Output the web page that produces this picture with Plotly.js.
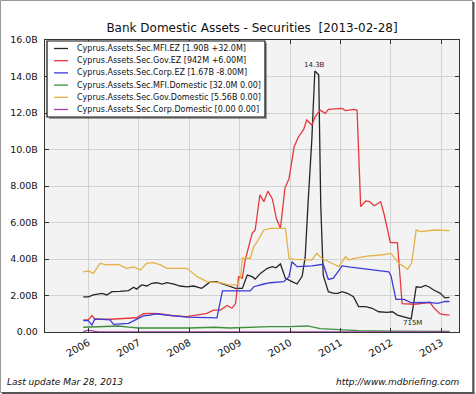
<!DOCTYPE html>
<html>
<head>
<meta charset="utf-8">
<script src="https://cdn.plot.ly/plotly-3.0.1.min.js"></script>
<style>html,body{margin:0;padding:0;background:#fff;}#chart{width:476px;height:394px;}</style>
</head>
<body>
<div id="chart"></div>
<script>
// ---------------- DATA ----------------
const seriesNames = [
  "Cyprus.Assets.Sec.MFI.EZ [1.90B +32.0M]",
  "Cyprus.Assets.Sec.Gov.EZ [942M +6.00M]",
  "Cyprus.Assets.Sec.Corp.EZ [1.67B -8.00M]",
  "Cyprus.Assets.Sec.MFI.Domestic [32.0M 0.00]",
  "Cyprus.Assets.Sec.Gov.Domestic [5.56B 0.00]",
  "Cyprus.Assets.Sec.Corp.Domestic [0.00 0.00]"
];

// values in billions
const mfiEzDates = ['2005-11-25','2006-01-01','2006-02-06','2006-04-09','2006-05-15','2006-06-21','2006-08-18','2006-10-19','2006-11-25','2006-12-16',
  '2007-01-22','2007-02-28','2007-04-05','2007-05-12','2007-06-18','2007-07-24','2007-09-13','2007-10-27','2007-12-16',
  '2008-02-02','2008-04-01','2008-06-03','2008-07-20','2008-08-15','2008-10-12','2008-12-02',
  '2009-01-20','2009-02-25','2009-04-01','2009-04-23','2009-05-31','2009-07-20','2009-08-26','2009-09-20','2009-10-23','2009-11-28',
  '2010-01-15','2010-02-20','2010-03-29','2010-04-20','2010-05-12','2010-06-07','2010-06-29','2010-07-16','2010-07-27','2010-08-11','2010-08-29','2010-10-05','2010-11-14','2010-12-13',
  '2011-01-12','2011-02-20','2011-04-05','2011-05-12','2011-07-02','2011-08-18','2011-10-05','2011-12-05',
  '2012-01-12','2012-02-17','2012-04-05','2012-05-27','2012-07-02','2012-08-04','2012-09-06','2012-10-01','2012-11-06','2012-12-24',
  '2013-01-26','2013-02-28'];
const mfiEzValues = [1.93,1.93,2.03,2.12,2.03,2.21,2.23,2.27,2.45,2.35,
  2.58,2.52,2.67,2.70,2.62,2.70,2.62,2.52,2.47,
  2.52,2.39,2.76,2.76,2.67,2.52,2.39,
  2.39,3.12,3.03,2.90,3.21,3.49,3.58,3.52,3.73,2.94,
  2.76,2.63,3.05,4.10,7.20,10.5,14.3,14.2,14.1,6.90,3.10,2.21,2.12,2.12,
  2.21,2.12,1.93,1.39,1.39,1.30,1.11,1.07,
  1.11,0.93,0.84,0.715,2.48,2.45,2.55,2.48,2.30,2.12,
  1.87,1.90];

const govEzDates = ['2005-11-25','2006-01-01','2006-01-27','2006-02-17','2006-06-07','2006-12-16',
  '2007-02-03','2007-03-26','2007-05-27','2007-09-09','2007-12-16',
  '2008-02-02','2008-03-22','2008-05-08','2008-06-25','2008-08-15','2008-10-01','2008-11-06','2008-12-02','2008-12-13','2008-12-24',
  '2009-01-20','2009-02-10','2009-03-07','2009-04-01','2009-04-23','2009-05-27','2009-06-25','2009-07-24','2009-08-26','2009-09-24','2009-10-23','2009-11-25','2009-12-24',
  '2010-01-30','2010-03-03','2010-04-09','2010-05-01','2010-06-07','2010-07-02','2010-08-07','2010-09-13','2010-10-05',
  '2011-01-12','2011-02-06','2011-04-09','2011-05-01','2011-05-27','2011-07-02','2011-07-31','2011-09-02','2011-10-19','2011-11-14','2011-12-28',
  '2012-02-17','2012-03-22','2012-06-18','2012-08-18','2012-10-09','2012-11-10','2012-12-20',
  '2013-01-26','2013-02-28'];
const govEzValues = [0.66,0.66,0.90,0.70,0.70,0.78,
  1.00,1.02,1.00,0.89,0.84,
  0.90,0.93,1.02,1.20,1.20,1.45,1.30,1.57,2.48,3.03,
  2.95,3.95,4.68,5.41,5.59,7.51,7.14,7.72,7.28,6.20,5.68,7.90,8.40,
  10.15,10.7,11.1,11.62,11.34,11.8,12.16,11.98,12.2,
  12.25,12.13,12.2,12.15,6.87,7.18,7.14,6.92,7.14,6.41,4.90,
  4.90,1.55,1.52,1.57,1.63,1.30,1.00,
  0.936,0.942];

const corpEzDates = ['2005-11-25','2006-01-01','2006-01-27','2006-02-17','2006-06-07','2006-07-02','2006-10-19','2006-12-16',
  '2007-02-03','2007-03-26','2007-05-01','2007-07-24','2007-12-16',
  '2008-07-20','2008-08-29',
  '2009-03-18','2009-04-13','2009-06-25','2009-08-11','2009-11-17','2009-12-24',
  '2010-01-15','2010-02-20','2010-06-07','2010-08-29','2010-10-05','2010-11-10','2010-12-05',
  '2011-01-12','2011-03-15','2011-05-27','2011-07-13','2011-10-05','2011-12-16',
  '2012-01-01','2012-02-06','2012-04-05','2012-05-27','2012-10-01','2012-12-05',
  '2013-01-26','2013-02-28'];
const corpEzValues = [0.62,0.62,0.38,0.72,0.66,0.42,0.47,0.68,
  0.88,0.93,1.00,0.92,0.82,
  0.77,2.25,
  2.25,2.48,2.63,2.70,2.76,3.03,
  3.85,3.58,3.62,3.71,2.88,2.95,3.21,
  3.62,3.55,3.49,3.43,3.35,3.30,
  3.10,1.79,1.79,1.61,1.62,1.57,
  1.68,1.67];

const mfiDomDates = ['2005-11-25','2006-05-27','2006-08-07','2006-10-19','2007-01-01','2008-01-01','2008-07-02','2008-10-19',
  '2009-03-15','2009-08-07','2010-01-01','2010-03-15','2010-05-08','2010-08-07','2011-01-01','2011-05-12','2012-01-01','2013-02-28'];
const mfiDomValues = [0.26,0.29,0.33,0.27,0.22,0.22,0.26,0.22,
  0.27,0.29,0.29,0.33,0.33,0.18,0.11,0.07,0.05,0.032];

const govDomDates = ['2005-11-25','2006-01-01','2006-02-06','2006-03-26','2006-05-15','2006-08-07','2006-10-05','2006-11-25',
  '2007-01-12','2007-02-28','2007-04-16','2007-06-07','2007-07-24','2007-12-16',
  '2008-02-28','2008-05-08','2008-08-15','2008-10-12','2008-12-13',
  '2009-01-08','2009-01-20','2009-03-18','2009-04-13','2009-05-08','2009-06-25','2009-08-11','2009-11-28','2009-12-24',
  '2010-01-30','2010-06-07','2010-07-13','2010-08-18','2010-11-25','2010-12-20',
  '2011-02-06','2011-03-03','2011-04-09','2011-07-13','2011-10-19',
  '2012-01-01','2012-02-28','2012-05-01','2012-05-31','2012-07-02','2012-08-04','2012-11-10',
  '2013-02-28'];
const govDomValues = [3.30,3.35,3.21,3.76,3.68,3.70,3.49,3.56,
  3.40,3.76,3.80,3.68,3.49,3.49,
  3.03,2.76,2.70,2.58,2.58,
  3.03,4.04,4.04,4.68,4.95,5.59,5.68,5.68,4.04,
  3.98,3.95,4.31,4.04,3.67,3.58,
  4.13,3.95,4.04,4.16,4.22,
  4.31,3.76,3.43,3.80,5.59,5.50,5.59,
  5.56];

const corpDomDates = ['2005-11-25','2006-01-01','2006-02-06','2006-03-15','2013-02-28'];
const corpDomValues = [0.02,0.10,0.05,0.00,0.00];

const yTickVals = [0,2,4,6,8,10,12,14,16];
const yTickText = ['0.00','2.00B','4.00B','6.00B','8.00B','10.0B','12.0B','14.0B','16.0B'];
const xTickVals = ['2006-01-01','2007-01-01','2008-01-01','2009-01-01','2010-01-01','2011-01-01','2012-01-01','2013-01-01'];
const xTickText = ['2006','2007','2008','2009','2010','2011','2012','2013'];

const peakLabel = {date:'2010-06-29', value:14.3, text:'14.3B'};
const lowLabel = {date:'2012-05-27', value:0.715, text:'715M'};

// ---------------- STYLE ----------------
const colors = ['#262626','#e8383d','#3b3bd6','#3f8f3f','#e3b345','#a53fa5'];
const W = 476, H = 394;
const M = {l:45, r:17, t:40, b:62};
const PW = W - M.l - M.r, PH = H - M.t - M.b;
const px = x => (x - M.l) / PW;      // pixel -> paper x
const py = y => (H - M.b - y) / PH;  // pixel -> paper y

const seriesX = [mfiEzDates, govEzDates, corpEzDates, mfiDomDates, govDomDates, corpDomDates];
const seriesY = [mfiEzValues, govEzValues, corpEzValues, mfiDomValues, govDomValues, corpDomValues];

const traces = seriesNames.map((n, i) => ({
  type:'scatter', mode:'lines', name:n,
  x: seriesX[i], y: seriesY[i],
  line:{color:colors[i], width:1.3},
  showlegend:false, hoverinfo:'skip'
}));

const FONT = 'DejaVu Sans, sans-serif';

// custom legend (drawn from names & colours)
const legL = 47, legR = 265, legT = 41, legB = 117;
const entryTop = 48.5, entryStep = 12.2;
const shapes = [
  // outer frame
  {type:'rect', xref:'paper', yref:'paper', x0:px(0.5), x1:px(472.5), y0:py(0.5), y1:py(392.5),
   line:{color:'#9a9a9a', width:1}, layer:'below'},
  {type:'line', xref:'paper', yref:'paper', x0:px(473.5), x1:px(473.5), y0:py(2), y1:py(393.5),
   line:{color:'#555', width:2}},
  {type:'line', xref:'paper', yref:'paper', x0:px(2), x1:px(474.5), y0:py(393), y1:py(393),
   line:{color:'#555', width:2}},
  // legend shadow + box
  {type:'rect', xref:'paper', yref:'paper', x0:px(legL+2), x1:px(legR+2), y0:py(legB+2), y1:py(legT+2),
   line:{width:0}, fillcolor:'rgba(0,0,0,0.35)'},
  {type:'rect', xref:'paper', yref:'paper', x0:px(legL), x1:px(legR), y0:py(legB), y1:py(legT),
   line:{color:'#111', width:1.2}, fillcolor:'#ffffff'}
];
const annotations = [];
seriesNames.forEach((n, i) => {
  const yy = entryTop + i * entryStep;
  shapes.push({type:'line', xref:'paper', yref:'paper', x0:px(54), x1:px(68), y0:py(yy), y1:py(yy),
    line:{color:colors[i], width:1.3}});
  annotations.push({xref:'paper', yref:'paper', x:px(75), y:py(yy), xanchor:'left', yanchor:'middle',
    text:n, showarrow:false, font:{family:FONT, size:8, color:'#111'}});
});

annotations.push({x:peakLabel.date, y:peakLabel.value, xref:'x', yref:'y', text:peakLabel.text,
  showarrow:false, yanchor:'bottom', yshift:0, font:{family:FONT, size:7, color:'#222'}});
annotations.push({x:lowLabel.date, y:lowLabel.value, xref:'x', yref:'y', text:lowLabel.text,
  showarrow:false, yanchor:'top', yshift:2, xshift:1, font:{family:FONT, size:7, color:'#222'}});

annotations.push({xref:'paper', yref:'paper', x:px(5), y:py(382), xanchor:'left', yanchor:'middle',
  text:'<i>Last update Mar 28, 2013</i>', showarrow:false, font:{family:FONT, size:9, color:'#111'}});
annotations.push({xref:'paper', yref:'paper', x:px(461), y:py(382), xanchor:'right', yanchor:'middle',
  text:'<i>http://www.mdbriefing.com</i>', showarrow:false, font:{family:FONT, size:9, color:'#111'}});

const layout = {
  width:W, height:H,
  margin:M,
  paper_bgcolor:'#ffffff',
  plot_bgcolor:'#f3f3f3',
  showlegend:false,
  title:{text:'Bank Domestic Assets - Securities\u00A0\u00A0[2013-02-28]',
    font:{family:FONT, size:12, color:'#111'}, x:0.5, xref:'paper', xanchor:'center',
    y:1 - 28/H, yref:'container', yanchor:'middle'},
  xaxis:{type:'date', range:['2005-02-21','2013-05-08'],
    tickvals:xTickVals, ticktext:xTickText, tickangle:-30,
    showgrid:true, gridcolor:'#d2d2d2', gridwidth:1,
    showline:true, linecolor:'#333', linewidth:1.2, mirror:'allticks',
    ticks:'inside', ticklen:4, tickcolor:'#333',
    tickfont:{family:FONT, size:10, color:'#111'}, zeroline:false, fixedrange:true},
  yaxis:{range:[0,16], tickvals:yTickVals, ticktext:yTickText,
    showgrid:true, gridcolor:'#d2d2d2', gridwidth:1,
    showline:true, linecolor:'#333', linewidth:1.2, mirror:'allticks',
    ticks:'inside', ticklen:4, tickcolor:'#333', ticklabelstandoff:4,
    tickfont:{family:FONT, size:9.5, color:'#111'}, zeroline:false, fixedrange:true},
  shapes:shapes,
  annotations:annotations
};

Plotly.newPlot('chart', traces, layout, {staticPlot:true, displayModeBar:false});
</script>
</body>
</html>
